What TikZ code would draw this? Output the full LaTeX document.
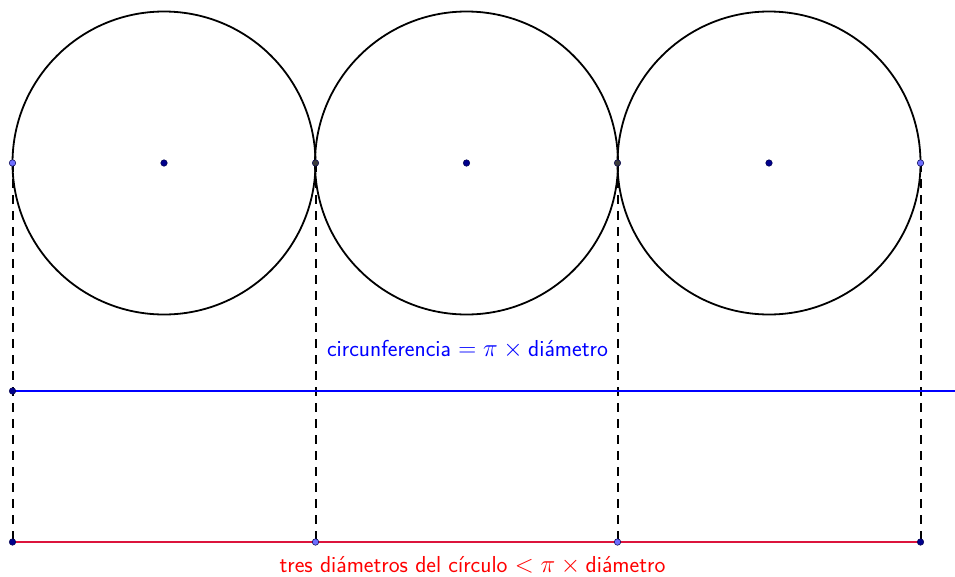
\documentclass[tikz,border=0pt]{standalone}
\usepackage{tikz}
\definecolor{lineblue}{RGB}{0,0,255}
\definecolor{linered}{RGB}{220,20,60}
\definecolor{ptlight}{RGB}{110,110,255}
\definecolor{ptdark}{RGB}{0,0,140}
\definecolor{ptgrey}{RGB}{60,60,60}
\begin{document}
\begin{tikzpicture}[x=1pt,y=-1pt,
  circ/.style={draw=black,line width=1.8pt},
  vdash/.style={draw=black,line width=2pt,dash pattern=on 9pt off 7pt},
  lblue/.style={draw=lineblue,line width=1.8pt},
  lred/.style={draw=linered,line width=1.8pt},
  pt/.style={circle,draw=black!70!blue,line width=0.5pt,inner sep=0pt,minimum size=6.5pt},
  lbl/.style={font=\fontsize{23.1}{27}\selectfont\sffamily,inner sep=0pt}]
\useasboundingbox (0,0) rectangle (955,576);
% centres
\coordinate (c1) at (164,163);
\coordinate (c2) at (466.5,163);
\coordinate (c3) at (769,163);
\draw[circ] (c1) circle (151.5);
\draw[circ] (c2) circle (151.5);
\draw[circ] (c3) circle (151.5);
% top points
\coordinate (t1) at (12.5,163);
\coordinate (t2) at (315.5,163);
\coordinate (t3) at (617.5,163);
\coordinate (t4) at (920.5,163);
% bottom points
\coordinate (b1) at (12.5,542);
\coordinate (b2) at (315.5,542);
\coordinate (b3) at (617.5,542);
\coordinate (b4) at (920.5,542);
% blue line
\coordinate (u1) at (12.5,391);
\coordinate (u2) at (955,391);
\draw[vdash] (t1) -- (b1);
\draw[vdash] (t2) -- (b2);
\draw[vdash] (t3) -- (b3);
\draw[vdash] (t4) -- (b4);
\draw[lblue] (u1) -- (u2);
\draw[lred] (b1) -- (b4);
% points
\node[pt,fill=ptdark] (p1) at (c1) {};
\node[pt,fill=ptdark] (p2) at (c2) {};
\node[pt,fill=ptdark] (p3) at (c3) {};
\node[pt,fill=ptlight] (q1) at (t1) {};
\node[pt,fill=ptgrey] (q2) at (t2) {};
\node[pt,fill=ptgrey] (q3) at (t3) {};
\node[pt,fill=ptlight] (q4) at (t4) {};
\node[pt,fill=ptdark] (r1) at (b1) {};
\node[pt,fill=ptlight] (r2) at (b2) {};
\node[pt,fill=ptlight] (r3) at (b3) {};
\node[pt,fill=ptdark] (r4) at (b4) {};
\node[pt,fill=ptdark] (s1) at (u1) {};
% labels
\node[lbl,text=lineblue] (lab1) at (467.5,349) {circunferencia $=\pi\times{}$diámetro};
\node[lbl,text=red] (lab2) at (472.5,566) {tres diámetros del círculo $<\pi\times{}$diámetro};
\end{tikzpicture}
\end{document}
